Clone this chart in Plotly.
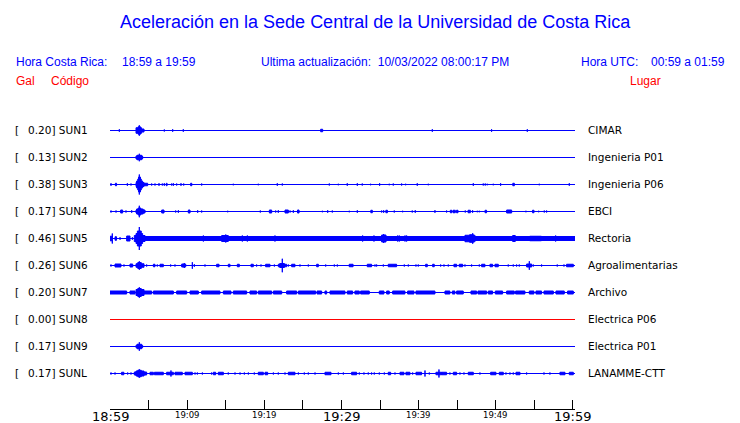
import plotly.graph_objects as go

# ---------------- data ----------------
TITLE = "Aceleración en la Sede Central de la Universidad de Costa Rica"
HORA_CR = "18:59 a 19:59"
HORA_UTC = "00:59 a 01:59"
ULTIMA = "10/03/2022 08:00:17 PM"

CODES = ["SUN1", "SUN2", "SUN3", "SUN4", "SUN5", "SUN6", "SUN7", "SUN8", "SUN9", "SUNL"]
GAL = [0.20, 0.13, 0.38, 0.17, 0.46, 0.26, 0.20, 0.00, 0.17, 0.17]
PLACES = ["CIMAR", "Ingenieria P01", "Ingenieria P06", "EBCI", "Rectoria",
          "Agroalimentarias", "Archivo", "Electrica P06", "Electrica P01", "LANAMME-CTT"]

# minutes after 18:59
TICK_MIN = [0, 5, 10, 15, 20, 25, 30, 35, 40, 45, 50, 55, 60]
LABEL_MIN = [0, 10, 20, 30, 40, 50, 60]
LABEL_TEXT = ["18:59", "19:09", "19:19", "19:29", "19:39", "19:49", "19:59"]
LABEL_MAJOR = [True, False, False, True, False, False, True]

# waveform envelope events: (start minute, end minute, half amplitude in Gal)
SUN1_EV = [(1.21, 1.21, 0.05), (3.37, 4.10, 0.11), (3.65, 3.95, 0.15), (3.80, 3.80, 0.21),
           (4.10, 4.41, 0.06), (7.04, 7.04, 0.04), (8.12, 8.12, 0.05), (9.50, 9.50, 0.05),
           (27.30, 27.56, 0.05), (41.77, 41.77, 0.05), (49.45, 49.45, 0.05), (54.08, 54.08, 0.05)]
SUN2_EV = [(3.37, 4.23, 0.06), (3.50, 4.10, 0.09), (3.80, 3.80, 0.15)]
SUN3_EV = [(3.37, 4.41, 0.08), (3.45, 4.23, 0.14), (3.60, 4.05, 0.22), (3.70, 3.95, 0.30),
           (3.80, 3.80, 0.40), (4.41, 4.88, 0.05),
           (0.13, 0.13, 0.05), (0.70, 0.85, 0.05), (2.25, 2.25, 0.05), (2.72, 2.72, 0.04),
           (5.40, 5.40, 0.04), (5.83, 5.83, 0.04), (6.35, 6.35, 0.05), (6.78, 6.78, 0.04),
           (7.04, 7.04, 0.05), (7.30, 7.40, 0.05), (7.99, 7.99, 0.04), (8.21, 8.21, 0.05),
           (8.64, 8.64, 0.04), (9.20, 9.20, 0.05), (9.55, 9.55, 0.04), (10.45, 10.60, 0.05),
           (11.88, 11.88, 0.04), (15.98, 15.98, 0.03), (19.22, 19.22, 0.03), (21.68, 21.68, 0.05),
           (22.33, 22.33, 0.04), (28.42, 28.42, 0.04), (29.59, 29.59, 0.03),
           (30.75, 30.75, 0.05), (32.05, 32.05, 0.05), (32.69, 32.69, 0.04), (33.77, 33.77, 0.03),
           (34.94, 34.94, 0.05), (36.19, 36.19, 0.03), (36.71, 36.71, 0.04), (37.79, 37.79, 0.04),
           (38.31, 38.31, 0.03), (39.82, 39.82, 0.05), (41.25, 41.25, 0.03), (47.08, 47.08, 0.05),
           (48.37, 48.37, 0.04), (48.63, 48.63, 0.04), (48.89, 48.89, 0.03), (49.67, 49.67, 0.03),
           (50.62, 50.62, 0.05), (52.20, 52.40, 0.05), (55.63, 55.63, 0.03), (59.52, 59.52, 0.05)]
SUN4_EV = [(3.37, 4.54, 0.06), (3.45, 4.30, 0.10), (3.65, 4.00, 0.14), (3.80, 3.80, 0.23),
           (0.13, 0.13, 0.04), (0.78, 0.78, 0.04), (1.38, 1.64, 0.06), (2.07, 2.07, 0.04),
           (2.81, 2.81, 0.05), (6.70, 7.00, 0.06), (8.51, 8.51, 0.04), (8.86, 8.86, 0.05),
           (10.15, 10.37, 0.06), (11.36, 11.36, 0.05), (11.88, 11.88, 0.04), (15.25, 15.25, 0.03),
           (19.48, 19.48, 0.04), (20.65, 20.95, 0.06), (21.47, 21.47, 0.04), (21.81, 21.81, 0.05),
           (22.68, 23.11, 0.06), (23.33, 23.33, 0.04), (23.76, 23.76, 0.05), (24.30, 24.50, 0.06),
           (27.52, 27.52, 0.03), (28.21, 28.21, 0.05), (28.81, 28.81, 0.04),
           (31.01, 31.01, 0.03), (32.05, 32.05, 0.05), (33.80, 34.00, 0.05), (35.20, 35.20, 0.04),
           (35.46, 35.46, 0.05), (35.75, 35.95, 0.05), (36.84, 36.84, 0.04), (37.92, 37.92, 0.03),
           (39.17, 39.17, 0.04), (39.56, 39.56, 0.05), (42.11, 42.11, 0.05), (43.62, 43.62, 0.04),
           (44.10, 44.30, 0.05), (44.45, 44.75, 0.05), (44.90, 45.10, 0.05), (46.04, 46.04, 0.04),
           (46.40, 46.70, 0.05), (46.99, 46.99, 0.05), (47.60, 47.60, 0.03), (47.86, 47.86, 0.03),
           (48.60, 48.80, 0.05), (51.40, 52.05, 0.06), (53.90, 53.90, 0.03), (54.75, 54.95, 0.05),
           (55.55, 55.55, 0.03), (56.28, 56.28, 0.04), (56.58, 56.58, 0.04)]
SUN5_EV = [(3.15, 4.54, 0.12), (3.37, 4.23, 0.20), (3.55, 4.05, 0.30), (3.80, 3.80, 0.46),
           (4.54, 60.26, 0.08),
           (0.00, 0.30, 0.09), (0.30, 0.30, 0.20), (0.65, 0.85, 0.07), (1.30, 1.30, 0.05),
           (2.16, 2.59, 0.10), (2.90, 2.90, 0.05),
           (12.10, 12.10, 0.12), (12.53, 12.53, 0.10), (14.47, 15.33, 0.12), (15.00, 15.00, 0.16),
           (17.15, 17.15, 0.12), (17.80, 17.80, 0.12), (19.65, 19.65, 0.10), (21.38, 21.38, 0.12),
           (22.12, 22.12, 0.10),
           (32.74, 32.74, 0.12), (34.21, 34.21, 0.12), (35.20, 35.77, 0.14), (35.46, 35.46, 0.18),
           (37.28, 37.28, 0.12), (37.49, 37.49, 0.12), (38.23, 38.23, 0.12), (38.44, 38.44, 0.12),
           (46.00, 47.30, 0.13), (46.60, 47.10, 0.15), (47.00, 47.00, 0.21), (51.19, 51.19, 0.10),
           (52.18, 52.52, 0.12), (54.40, 55.90, 0.09), (57.75, 57.75, 0.12)]
SUN6_EV = [(3.37, 4.41, 0.07), (3.60, 4.05, 0.12), (3.80, 3.80, 0.17),
           (0.13, 0.13, 0.04), (0.65, 1.42, 0.06), (1.81, 1.81, 0.04), (2.59, 2.94, 0.06),
           (4.75, 4.75, 0.04), (5.62, 5.83, 0.05), (6.13, 6.13, 0.04), (6.48, 6.91, 0.05),
           (7.86, 7.86, 0.04), (8.42, 8.42, 0.04), (9.29, 9.81, 0.06), (9.63, 9.63, 0.10),
           (10.67, 10.67, 0.13), (10.93, 10.93, 0.05), (12.31, 12.31, 0.04), (13.82, 14.13, 0.05),
           (15.33, 15.55, 0.05), (16.50, 16.76, 0.05), (18.27, 18.57, 0.05), (19.00, 19.00, 0.04),
           (19.57, 19.57, 0.04), (20.17, 20.73, 0.05), (21.30, 21.30, 0.04), (21.81, 22.89, 0.05),
           (22.00, 22.60, 0.08), (22.33, 22.33, 0.27), (23.11, 23.11, 0.04), (23.54, 23.97, 0.05),
           (24.62, 24.62, 0.04), (25.70, 25.70, 0.04), (26.78, 27.00, 0.05), (27.95, 27.95, 0.04),
           (29.07, 29.07, 0.04), (29.46, 29.46, 0.04),
           (31.00, 31.50, 0.05), (33.34, 33.90, 0.05), (34.34, 34.34, 0.04), (34.55, 34.55, 0.04),
           (35.42, 35.42, 0.04), (36.06, 37.14, 0.05), (38.14, 38.14, 0.04), (38.66, 38.66, 0.04),
           (39.65, 39.65, 0.04), (39.95, 39.95, 0.04), (40.90, 41.12, 0.05), (41.81, 42.02, 0.05),
           (42.85, 42.85, 0.04), (43.28, 43.28, 0.04), (43.84, 43.84, 0.04), (44.57, 44.92, 0.05),
           (45.26, 45.70, 0.05), (46.00, 46.00, 0.04), (46.86, 46.86, 0.04), (47.86, 47.86, 0.04),
           (48.16, 48.59, 0.05), (49.24, 49.58, 0.05), (49.89, 50.32, 0.05), (51.61, 51.61, 0.04),
           (52.26, 52.26, 0.04), (52.69, 52.69, 0.04), (53.04, 53.04, 0.04), (53.99, 54.64, 0.06),
           (54.34, 54.34, 0.17), (54.85, 54.85, 0.04), (55.93, 55.93, 0.04), (57.96, 57.96, 0.04),
           (58.83, 58.83, 0.04), (59.17, 60.04, 0.05)]
SUN7_EV = [(3.37, 4.41, 0.12), (3.60, 4.05, 0.16), (3.80, 3.80, 0.21),
           (0.00, 2.16, 0.06), (2.59, 3.24, 0.06), (4.41, 5.40, 0.06), (5.62, 8.21, 0.06),
           (8.64, 9.94, 0.06), (10.37, 11.45, 0.06), (11.88, 14.25, 0.06), (14.69, 15.68, 0.06),
           (15.98, 17.71, 0.06), (18.14, 19.00, 0.06), (19.22, 20.95, 0.06), (21.17, 22.25, 0.06),
           (22.89, 24.19, 0.06), (24.41, 26.65, 0.06), (26.83, 27.43, 0.06), (27.86, 28.08, 0.06),
           (28.51, 30.45, 0.06), (30.75, 31.44, 0.06), (31.74, 32.31, 0.06), (32.48, 33.60, 0.06),
           (34.90, 35.50, 0.06), (35.85, 36.19, 0.06), (36.63, 38.22, 0.06), (38.57, 39.39, 0.06),
           (39.65, 42.11, 0.06), (43.41, 44.05, 0.06), (44.36, 44.70, 0.06), (44.92, 45.78, 0.06),
           (46.78, 47.51, 0.06), (47.68, 48.81, 0.06), (49.02, 49.58, 0.06), (49.93, 50.88, 0.06),
           (51.40, 52.39, 0.06), (52.56, 53.77, 0.06), (54.34, 54.94, 0.06), (55.20, 55.93, 0.06),
           (56.24, 57.45, 0.06), (57.79, 58.87, 0.06), (59.30, 60.04, 0.06)]
SUN8_EV = []
SUN9_EV = [(3.37, 4.23, 0.05), (3.50, 4.10, 0.09), (3.80, 3.80, 0.17)]
SUNL_EV = [(3.15, 4.75, 0.06), (3.37, 4.41, 0.10), (3.60, 4.05, 0.13), (3.80, 3.80, 0.17),
           (0.13, 0.13, 0.04), (0.65, 0.65, 0.04), (1.50, 1.80, 0.05), (2.29, 2.29, 0.04),
           (2.72, 2.72, 0.04), (5.18, 5.62, 0.05), (5.75, 6.91, 0.05), (7.34, 8.21, 0.05),
           (7.90, 7.90, 0.12), (8.42, 9.37, 0.05), (9.72, 10.67, 0.05), (11.02, 11.02, 0.04),
           (11.32, 11.32, 0.04), (11.97, 11.97, 0.04), (13.17, 13.17, 0.04), (13.39, 13.69, 0.05),
           (14.04, 14.69, 0.05), (15.33, 15.33, 0.04), (16.20, 16.20, 0.04), (16.85, 16.85, 0.04),
           (17.41, 17.41, 0.04), (17.93, 17.93, 0.04), (18.70, 18.70, 0.04), (19.22, 19.87, 0.05),
           (20.09, 20.43, 0.05), (21.17, 21.17, 0.04), (21.81, 21.81, 0.04), (22.68, 22.68, 0.04),
           (23.11, 23.97, 0.05), (24.41, 24.41, 0.04), (25.18, 25.18, 0.04), (25.70, 25.70, 0.04),
           (26.57, 26.57, 0.04), (27.86, 28.64, 0.05), (29.59, 29.59, 0.04), (30.24, 30.24, 0.04),
           (31.31, 31.96, 0.05), (32.31, 32.31, 0.04), (32.91, 32.91, 0.04), (33.47, 33.47, 0.04),
           (33.90, 33.90, 0.04), (34.25, 34.25, 0.04), (34.90, 34.90, 0.04), (35.55, 35.55, 0.04),
           (36.06, 36.37, 0.05), (36.93, 36.93, 0.04), (37.58, 38.09, 0.05), (38.35, 38.87, 0.05),
           (39.22, 39.22, 0.04), (39.65, 40.38, 0.05), (40.82, 40.82, 0.12), (41.38, 41.38, 0.04),
           (42.24, 42.98, 0.05), (42.63, 42.63, 0.16), (43.00, 43.62, 0.05), (44.05, 44.05, 0.04),
           (44.49, 44.92, 0.05), (45.35, 45.35, 0.04), (45.87, 45.87, 0.04), (46.43, 47.08, 0.05),
           (47.94, 47.94, 0.04), (49.33, 50.02, 0.05), (50.45, 50.97, 0.05), (51.31, 51.31, 0.04),
           (51.83, 51.83, 0.04), (52.26, 52.26, 0.04), (52.61, 53.13, 0.05), (53.99, 53.99, 0.04),
           (56.24, 56.24, 0.04), (57.01, 57.01, 0.04), (58.31, 58.96, 0.05), (59.52, 60.04, 0.05)]

EVENTS = [SUN1_EV, SUN2_EV, SUN3_EV, SUN4_EV, SUN5_EV, SUN6_EV, SUN7_EV, SUN8_EV, SUN9_EV, SUNL_EV]
T_END = 60.26

# ---------------- styling / layout ----------------
W, H = 740, 423
L, R, T, B = 110, 165, 117, 14
PW, PH = W - L - R, H - T - B
ROW_PX = 27.0
Y_TOP = 0.5
Y_BOT = Y_TOP - PH / ROW_PX
SCALE = 25.0 / ROW_PX   # row units per Gal
BLUE = "#0000ff"
RED = "#ff0000"


def px_x(x):
    return (x - L) / PW


def px_y(y):
    return (H - B - y) / PH


fig = go.Figure()
for i, code in enumerate(CODES):
    color = RED if GAL[i] == 0 else BLUE
    base = -i
    fig.add_trace(go.Scatter(x=[0, T_END], y=[base, base], mode="lines",
                             line=dict(color=color, width=1), hoverinfo="skip",
                             showlegend=False))
    xs, ys = [], []
    for (t0, t1, a) in EVENTS[i]:
        h = a * SCALE
        xs += [t0, t1, t1, t0, t0, None]
        ys += [base - h, base - h, base + h, base + h, base - h, None]
    if xs:
        fig.add_trace(go.Scatter(x=xs, y=ys, mode="lines", fill="toself",
                                 fillcolor=color, line=dict(color=color, width=1),
                                 hoverinfo="skip", showlegend=False))

ann = []
lab_font = dict(family="DejaVu Sans", size=10.5, color="black")
for i, code in enumerate(CODES):
    yy = px_y(129.7 + ROW_PX * i)
    ann.append(dict(x=px_x(13), y=yy, text="[", xanchor="left", yanchor="middle",
                    showarrow=False, font=lab_font, xref="paper", yref="paper"))
    ann.append(dict(x=px_x(26), y=yy, text=f"{GAL[i]:.2f}] {code}", xanchor="left",
                    yanchor="middle", showarrow=False, font=lab_font,
                    xref="paper", yref="paper"))
    ann.append(dict(x=px_x(586), y=yy, text=PLACES[i], xanchor="left", yanchor="middle",
                    showarrow=False, font=lab_font, xref="paper", yref="paper"))

# time labels under the axis (two sizes, as in the original)
for t, txt, major in zip(LABEL_MIN, LABEL_TEXT, LABEL_MAJOR):
    ann.append(dict(x=t, xref="x", y=px_y(416.5 if major else 414.5), yref="paper",
                    text=txt, xanchor="center", yanchor="middle", showarrow=False,
                    font=dict(family="DejaVu Sans", size=13 if major else 8.5, color="black")))

hdr = dict(family="Liberation Sans, Arial", size=12, color=BLUE)
hdr_r = dict(family="Liberation Sans, Arial", size=12, color=RED)


def add(text, x, y, font, anchor="left"):
    ann.append(dict(x=px_x(x), y=px_y(y), text=text, xanchor=anchor, yanchor="middle",
                    showarrow=False, font=font, xref="paper", yref="paper"))


add(TITLE, 375, 22, dict(family="Liberation Sans, Arial", size=18, color=BLUE), "center")
add("Hora Costa Rica:", 14, 61.5, hdr)
add(HORA_CR, 120, 61.5, hdr)
add("Ultima actualización:  " + ULTIMA, 259, 61.5, hdr)
add("Hora UTC:", 579, 61.5, hdr)
add(HORA_UTC, 649, 61.5, hdr)
add("Gal", 14, 80.5, hdr_r)
add("Código", 49, 80.5, hdr_r)
add("Lugar", 663, 80.5, hdr_r, "right")

fig.update_layout(
    width=W, height=H, margin=dict(l=L, r=R, t=T, b=B, autoexpand=False),
    paper_bgcolor="white", plot_bgcolor="white",
    showlegend=False, annotations=ann,
    xaxis=dict(range=[0, T_END], tickvals=TICK_MIN, showticklabels=False,
               ticks="inside", ticklen=9, tickcolor="black", tickwidth=1,
               showline=True, linecolor="black", linewidth=1, showgrid=False,
               zeroline=False, automargin=False, fixedrange=True),
    yaxis=dict(range=[Y_BOT, Y_TOP], showticklabels=False, showgrid=False,
               zeroline=False, showline=False, ticks="", automargin=False, fixedrange=True),
)

fig.write_html("out.html", config={"displayModeBar": False})
with open("out.html", "r", encoding="utf-8") as f:
    page = f.read()
page = page.replace("<body>", '<body style="margin:0;padding:0;overflow:hidden">', 1)
page = page.replace("<head>", "<head><style>html,body{margin:0;padding:0;}</style>", 1)
with open("out.html", "w", encoding="utf-8") as f:
    f.write(page)
